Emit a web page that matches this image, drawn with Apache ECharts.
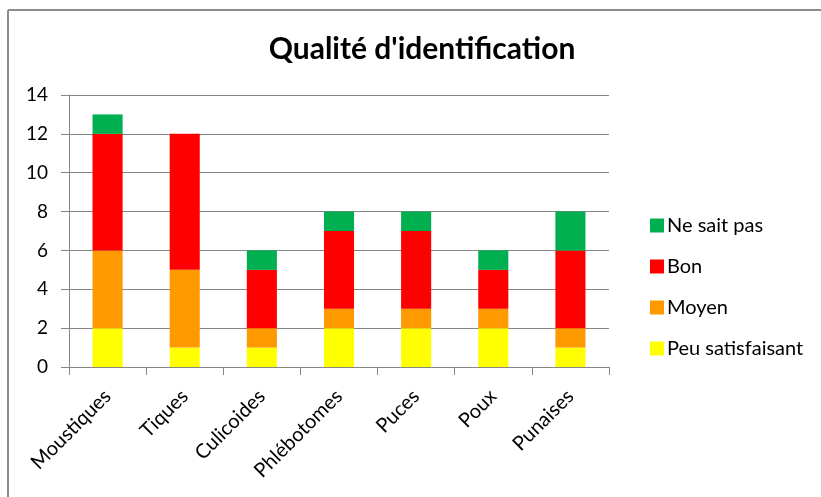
<!DOCTYPE html>
<html>
<head>
<meta charset="utf-8">
<script src="https://cdn.jsdelivr.net/npm/echarts@6/dist/echarts.min.js"></script>
<style>
  html, body { margin: 0; padding: 0; background: #fff; }
  #chart { width: 821px; height: 497px; }
</style>
</head>
<body>
<div id="chart"></div>
<script>
// données
const categories = ["Moustiques", "Tiques", "Culicoides", "Phlébotomes", "Puces", "Poux", "Punaises"];
const peuSatisfaisant = [2, 1, 1, 2, 2, 2, 1];
const moyen = [4, 4, 1, 1, 1, 1, 1];
const bon = [6, 7, 3, 4, 4, 2, 4];
const neSaitPas = [1, 0, 1, 1, 1, 1, 2];

const font = "Lato, 'Liberation Sans', sans-serif";
const gray = "#868686";

const chart = echarts.init(document.getElementById("chart"), null, { renderer: "canvas" });

function bar(name, data, color) {
  return {
    name: name,
    type: "bar",
    stack: "total",
    data: data,
    barCategoryGap: "61%",
    itemStyle: { color: color },
    emphasis: { disabled: true }
  };
}

chart.setOption({
  animation: false,
  textStyle: { fontFamily: font },
  title: {
    text: "Qualité d'identification",
    left: 417,
    textAlign: "center",
    top: 29,
    textStyle: { fontFamily: font, fontSize: 30, fontWeight: "bold", color: "#000" }
  },
  legend: {
    orient: "vertical",
    left: 645,
    top: 210,
    itemWidth: 14,
    itemHeight: 14,
    itemGap: 20,
    icon: "rect",
    data: ["Ne sait pas", "Bon", "Moyen", "Peu satisfaisant"],
    textStyle: { fontFamily: font, fontSize: 20, lineHeight: 21, color: "#000", padding: [0, 0, 0, -2] }
  },
  grid: { left: 69, right: 212, top: 95, bottom: 130, containLabel: false },
  xAxis: {
    type: "category",
    data: categories,
    axisLine: { lineStyle: { color: gray } },
    axisTick: { show: true, length: 8, alignWithLabel: false, lineStyle: { color: gray } },
    axisLabel: { rotate: 45, fontFamily: font, fontSize: 20, color: "#000", margin: 26, interval: 0 }
  },
  yAxis: {
    type: "value",
    min: 0,
    max: 14,
    interval: 2,
    axisLine: { show: true, lineStyle: { color: gray } },
    axisTick: { show: true, length: 8, lineStyle: { color: gray } },
    splitLine: { lineStyle: { color: gray } },
    axisLabel: { fontFamily: font, fontSize: 19, color: "#000", margin: 21 }
  },
  graphic: [
    { type: "line", shape: { x1: 8, y1: 10, x2: 821, y2: 10 }, style: { stroke: "#8c8c8c", lineWidth: 2 } },
    { type: "line", shape: { x1: 8, y1: 10, x2: 8, y2: 497 }, style: { stroke: "#8c8c8c", lineWidth: 2 } }
  ],
  series: [
    bar("Peu satisfaisant", peuSatisfaisant, "#FFFF00"),
    bar("Moyen", moyen, "#FF9900"),
    bar("Bon", bon, "#FF0000"),
    bar("Ne sait pas", neSaitPas, "#00B050")
  ]
});
</script>
</body>
</html>
